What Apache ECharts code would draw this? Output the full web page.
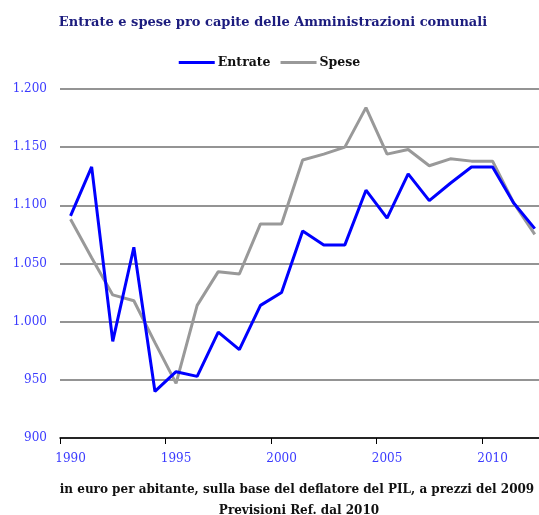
<!DOCTYPE html>
<html>
<head>
<meta charset="utf-8">
<script src="https://cdn.jsdelivr.net/npm/echarts@6/dist/echarts.min.js"></script>
<style>
    html, body { margin: 0; padding: 0; background: #fff; }
    #chart { width: 539px; height: 515px; }
</style>
</head>
<body>
<div id="chart"></div>
<script>
// anni
let years = [1990, 1991, 1992, 1993, 1994, 1995, 1996, 1997, 1998, 1999, 2000,
    2001, 2002, 2003, 2004, 2005, 2006, 2007, 2008, 2009, 2010, 2011, 2012];

// euro per abitante
let entrate = [1091, 1133, 983, 1064, 940, 957, 953, 991, 976, 1014, 1025,
    1078, 1066, 1066, 1113, 1089, 1127, 1104, 1119, 1133, 1133, 1102, 1080];
let spese = [1088, 1055, 1023, 1018, 982, 947, 1014, 1043, 1041, 1084, 1084,
    1139, 1144, 1150, 1184, 1144, 1148, 1134, 1140, 1138, 1138, 1102, 1075];

let xLabels = [1990, 1995, 2000, 2005, 2010];
let yTicks = [900, 950, 1000, 1050, 1100, 1150, 1200];

let serif = "DejaVu Serif";
let blueText = "#3b3bff";

// 900 -> "900", 1200 -> "1.200"
function fmt(v) {
    let s = String(v);
    return s.length > 3 ? s.slice(0, s.length - 3) + "." + s.slice(-3) : s;
}

// coppie [anno, valore]
function pairs(vals) {
    return years.map((y, i) => [y, vals[i]]);
}

let mychart = echarts.init(document.getElementById("chart"));
let options = {
    animation: false,
    title: [{
        text: "Entrate e spese pro capite delle Amministrazioni comunali",
        left: 268,
        top: 11,
        textAlign: "center",
        textStyle: { fontFamily: serif, fontSize: 13, fontWeight: "bold", color: "#1c1c7e" }
    }, {
        text: "in euro per abitante, sulla base del deflatore del PIL, a prezzi del 2009",
        left: 292,
        top: 479,
        textAlign: "center",
        textStyle: { fontFamily: serif, fontSize: 12, fontWeight: "bold", color: "#111" }
    }, {
        text: "Previsioni Ref. dal 2010",
        left: 294,
        top: 500,
        textAlign: "center",
        textStyle: { fontFamily: serif, fontSize: 12, fontWeight: "bold", color: "#111" }
    }],
    legend: {
        data: ["Entrate", "Spese"],
        left: "center",
        top: 51,
        icon: "rect",
        itemWidth: 36,
        itemHeight: 3,
        itemGap: 10,
        textStyle: { fontFamily: serif, fontSize: 12.5, fontWeight: "bold", color: "#111", padding: [0, 0, 0, -2] }
    },
    grid: {
        left: 60,
        top: 89,
        right: 0,
        height: 349
    },
    xAxis: {
        type: "value",
        // il grafico originale e' tagliato a destra poco dopo il 2012
        min: 1989.5,
        max: 2012.2,
        axisLine: { onZero: false, lineStyle: { color: "#000", width: 1.5 } },
        axisTick: { show: true, customValues: xLabels.map(v => v - 0.5), length: 6, lineStyle: { color: "#000", width: 1 } },
        axisLabel: {
            customValues: xLabels,
            formatter: v => String(v),
            margin: 15,
            fontFamily: serif,
            fontSize: 12,
            color: blueText
        },
        splitLine: { show: false }
    },
    yAxis: {
        type: "value",
        min: yTicks[0],
        max: yTicks[yTicks.length - 1],
        interval: 50,
        axisLine: { show: false },
        axisTick: { show: false },
        axisLabel: { margin: 13, fontFamily: serif, fontSize: 12, color: blueText, formatter: fmt },
        splitLine: { lineStyle: { color: "#707070", width: 1.5 } }
    },
    series: [{
        name: "Entrate",
        type: "line",
        data: pairs(entrate),
        symbol: "none",
        z: 3,
        lineStyle: { color: "#0000ff", width: 3 },
        itemStyle: { color: "#0000ff" }
    }, {
        name: "Spese",
        type: "line",
        data: pairs(spese),
        symbol: "none",
        z: 2,
        lineStyle: { color: "#999999", width: 3 },
        itemStyle: { color: "#999999" }
    }]
};
mychart.setOption(options);
</script>
</body>
</html>
